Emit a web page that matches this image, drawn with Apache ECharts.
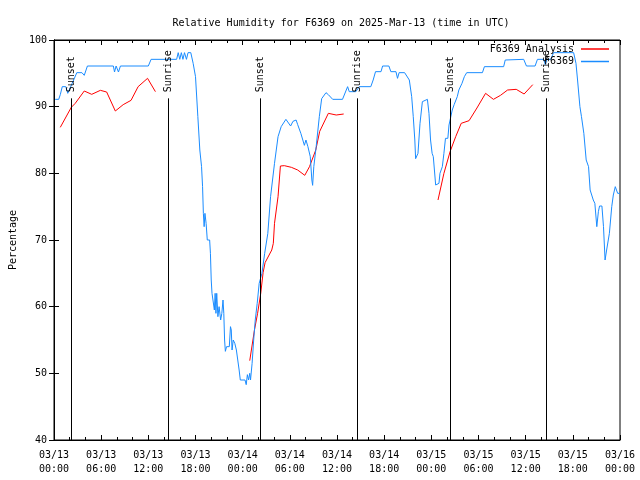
<!DOCTYPE html>
<html><head><meta charset="utf-8">
<script src="https://cdn.jsdelivr.net/npm/echarts@6/dist/echarts.min.js"></script>
<style>html,body{margin:0;padding:0;background:#fff}#c{width:640px;height:480px}</style>
</head><body><div id="c"></div>
<script>
const FONT = "'DejaVu Sans Mono', 'Liberation Mono', monospace";
const chartTitle = 'Relative Humidity for F6369 on 2025-Mar-13 (time in UTC)';
const yAxisName = 'Percentage';
const seriesNames = ['F6369 Analysis', 'F6369'];
// x values are hours since 03/13 00:00 UTC
const xTickLabels = ['03/13\n00:00','03/13\n06:00','03/13\n12:00','03/13\n18:00','03/14\n00:00','03/14\n06:00','03/14\n12:00','03/14\n18:00','03/15\n00:00','03/15\n06:00','03/15\n12:00','03/15\n18:00','03/16\n00:00'];
const sunEventHours = [2.2, 14.45, 26.24, 38.5, 50.35, 62.55];
const sunEventLabels = ['Sunset','Sunrise','Sunset','Sunrise','Sunset','Sunrise'];

const analysisSeg1 = [[0.8,86.9],[2.2,89.9],[2.7,90.5],[3.85,92.35],[4.8,91.85],[5.9,92.45],[6.7,92.2],[7.8,89.35],[8.8,90.3],[9.8,90.95],[10.7,93.0],[11.9,94.25],[12.9,92.25]];
const analysisSeg2 = [[24.9,51.9],[25.5,56.5],[25.9,59.0],[26.3,62.0],[26.6,65.1],[26.85,66.6],[27.7,68.5],[27.9,69.5],[28.05,72.5],[28.5,76.5],[28.8,81.1],[29.3,81.15],[30.2,80.9],[31.0,80.5],[31.9,79.7],[32.5,81.0],[33.3,83.5],[33.8,86.3],[34.9,89.0],[35.9,88.75],[36.85,88.9]];
const analysisSeg3 = [[48.85,76.0],[49.6,80.0],[50.4,83.3],[51.1,85.5],[51.8,87.5],[52.8,87.9],[53.8,89.8],[54.9,92.0],[55.9,91.1],[56.8,91.7],[57.7,92.5],[58.8,92.6],[59.8,91.9],[60.9,93.3]];

const stationData = [[0.15,91.1],[0.6,91.1],[0.8,91.8],[1.05,93.0],[1.5,93.0],[1.75,92.0],[2.05,92.8],[2.5,94.0],[2.9,95.1],[3.55,95.1],[3.85,94.7],[4.25,96.1],[7.55,96.1],[7.7,95.2],[7.9,96.1],[8.2,95.2],[8.45,96.1],[12.0,96.1],[12.35,97.1],[15.6,97.1],[15.8,98.1],[16.0,97.1],[16.2,98.1],[16.4,97.1],[16.6,98.1],[16.85,97.1],[17.05,98.1],[17.4,98.1],[17.7,96.5],[18.0,94.5],[18.3,88.5],[18.55,83.5],[18.77,81],[18.9,78],[19.0,74],[19.1,72],[19.2,74],[19.35,72.5],[19.5,70],[19.8,70],[19.9,68],[20.0,64],[20.1,62],[20.3,62],[20.4,59.5],[20.5,62],[20.6,59],[20.7,62],[20.85,58.5],[21.0,60],[21.2,58],[21.35,59],[21.5,61],[21.6,59],[21.7,55],[21.8,53.3],[21.95,54],[22.3,54],[22.45,57],[22.55,56.5],[22.65,53.5],[22.8,55],[23.0,54.5],[23.2,53.5],[23.4,53.5],[23.55,50.5],[23.7,49],[24.3,49],[24.45,48.3],[24.6,49.8],[24.75,49],[24.9,50],[25.0,49],[25.2,51.5],[25.4,55],[25.6,58],[25.85,60.5],[26.1,63.5],[26.45,65],[26.8,68],[27.2,71],[27.55,76.5],[28.05,81.5],[28.5,85.5],[28.9,87],[29.5,88.1],[30.1,87.1],[30.4,87.8],[30.8,88],[31.0,87.3],[31.4,86],[31.85,84.2],[32.05,85],[32.3,84],[32.6,82.5],[32.8,79],[32.9,78.2],[33.05,81],[33.35,84],[33.75,88.5],[34.05,91.2],[34.6,92.1],[34.9,91.8],[35.15,92],[35.45,91.1],[36.7,91.1],[37.35,93.0],[37.56,92.25],[38.4,92.25],[38.83,93.0],[40.3,93.0],[40.6,94.0],[40.9,95.25],[41.6,95.25],[41.8,96.1],[42.6,96.1],[42.85,95.25],[43.5,95.25],[43.7,94.25],[43.9,95.1],[44.6,95.1],[45.2,94.0],[45.5,91.5],[45.7,88.5],[45.9,85],[46.0,82.2],[46.1,82.2],[46.3,83],[46.56,87.5],[46.86,90.75],[47.5,91.1],[47.7,89],[47.9,85],[48.1,83],[48.25,82.5],[48.55,78.25],[48.8,78.25],[48.97,78.5],[49.1,80],[49.4,81],[49.6,83],[49.8,85.25],[50.1,85.25],[50.25,87.25],[50.66,89.5],[50.9,90.3],[51.3,91.5],[51.5,92.5],[51.9,93.5],[52.2,94.5],[52.5,95.1],[54.5,95.1],[54.75,96.0],[57.2,96.0],[57.4,97.0],[59.75,97.1],[60.1,96.1],[61.2,96.1],[61.5,97.1],[62.3,97.1],[62.5,96.3],[62.7,97.1],[63.2,97.1],[63.55,98.1],[66.1,98.1],[66.4,96.5],[66.6,94],[66.9,90],[67.1,88.5],[67.4,86],[67.7,82],[68.0,81],[68.2,77.5],[68.6,76],[68.8,75.5],[69.05,72],[69.25,74.25],[69.4,75.1],[69.7,75.1],[69.9,72],[70.1,67],[70.3,68.5],[70.65,71],[70.95,75],[71.15,76.75],[71.4,78],[71.7,77],[72,77]];

const analysisData = analysisSeg1.concat([[18,'-']], analysisSeg2, [[42,'-']], analysisSeg3);

const chart = echarts.init(document.getElementById('c'), null, {renderer: 'canvas'});
const tickCommon = {show: true, inside: true, length: 5, lineStyle: {color: '#000', width: 1}};
const minorCommon = {show: true, splitNumber: 3, length: 3, lineStyle: {color: '#000', width: 1}};
const option = {
  animation: false,
  backgroundColor: '#fff',
  textStyle: {fontFamily: FONT, fontSize: 10, color: '#000'},
  title: {text: chartTitle, left: 336, textAlign: 'center', top: 13,
    textStyle: {fontFamily: FONT, fontSize: 10, fontWeight: 'normal', color: '#000'}},
  grid: {left: 52, right: 20, top: 40, bottom: 40, show: true, borderColor: '#000', borderWidth: 1, containLabel: false},
  legend: {
    data: seriesNames, orient: 'vertical', right: 31, top: 44, align: 'right', padding: 0,
    icon: 'rect', itemWidth: 28, itemHeight: 1.5, itemGap: 2.5,
    textStyle: {fontFamily: FONT, fontSize: 10, color: '#000', padding: [0, 2, 0, 0]}
  },
  xAxis: [
    {type: 'value', min: 0, max: 72, interval: 6, position: 'bottom',
      axisLine: {show: true, lineStyle: {color: '#000'}},
      axisTick: tickCommon, minorTick: minorCommon, splitLine: {show: false},
      axisLabel: {margin: 8, lineHeight: 14, fontFamily: FONT, fontSize: 10, color: '#000',
        formatter: v => xTickLabels[Math.round(v / 6)]}},
    {type: 'value', min: 0, max: 72, interval: 6, position: 'top',
      axisLine: {show: true, lineStyle: {color: '#000'}},
      axisTick: tickCommon, minorTick: minorCommon, splitLine: {show: false},
      axisLabel: {show: false}}
  ],
  yAxis: [
    {type: 'value', min: 40, max: 100, interval: 10, position: 'left',
      name: yAxisName, nameLocation: 'middle', nameGap: 36, nameRotate: 90,
      nameTextStyle: {fontFamily: FONT, fontSize: 10, color: '#000'},
      axisLine: {show: true, lineStyle: {color: '#000'}},
      axisTick: tickCommon, splitLine: {show: false},
      axisLabel: {margin: 7, fontFamily: FONT, fontSize: 10, color: '#000'}},
    {type: 'value', min: 40, max: 100, interval: 10, position: 'right',
      axisLine: {show: true, lineStyle: {color: '#000'}},
      axisTick: tickCommon, splitLine: {show: false}, axisLabel: {show: false}}
  ],
  series: [
    {name: seriesNames[0], type: 'line', data: analysisData, symbol: 'none', showSymbol: false,
      connectNulls: false, lineStyle: {color: '#ff0000', width: 1}, itemStyle: {color: '#ff0000'}, z: 2},
    {name: seriesNames[1], type: 'line', data: stationData, symbol: 'none', showSymbol: false,
      lineStyle: {color: '#1a8cff', width: 1}, itemStyle: {color: '#1a8cff'}, z: 3},
    {name: 'sun', type: 'custom', data: sunEventHours.map(h => [h, 40]), z: 4, silent: true,
      renderItem: function (params, api) {
        const x = api.value(0);
        const p0 = api.coord([x, 40]);
        const p1 = api.coord([x, 91.25]);
        const px = Math.round(p0[0]) + 0.5;
        return {type: 'group', children: [
          {type: 'line', shape: {x1: px, y1: p0[1], x2: px, y2: p1[1]}, style: {stroke: '#000', lineWidth: 1}},
          {type: 'text', x: px, y: p1[1] - 6, rotation: Math.PI / 2,
            style: {text: sunEventLabels[params.dataIndex], fill: '#000', font: '10px ' + FONT, align: 'left', verticalAlign: 'middle'}}
        ]};
      }}
  ]
};
chart.setOption(option);
</script>
</body></html>
